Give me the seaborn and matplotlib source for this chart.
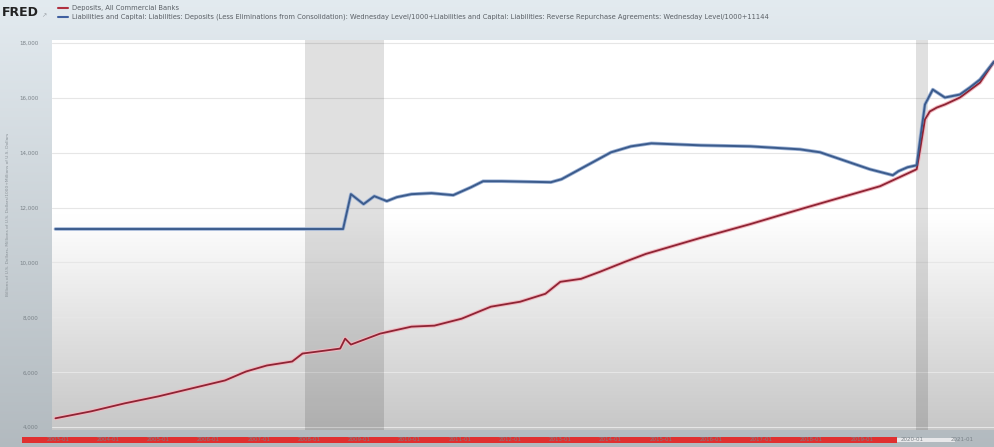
import numpy as np
import pandas as pd
import seaborn as sns
import matplotlib.pyplot as plt
import matplotlib.dates as mdates
from matplotlib.patches import Rectangle

# ----------------------------------------
# DATA (billions of dollars)
# ----------------------------------------
red_dates = ["2002-12-15", "2003-09-01", "2004-05-01", "2005-01-01", "2005-09-01",
             "2006-05-01", "2006-10-01", "2007-03-01", "2007-09-01", "2007-11-15",
             "2008-05-01", "2008-08-15", "2008-09-20", "2008-11-01", "2009-06-01",
             "2010-01-15", "2010-07-01", "2011-01-15", "2011-08-15", "2012-03-15",
             "2012-09-15", "2013-01-01", "2013-06-01", "2013-10-15", "2014-04-15",
             "2014-09-15", "2015-10-15", "2016-10-15", "2017-10-15", "2018-10-01",
             "2019-05-15", "2020-02-05", "2020-03-01", "2020-04-05", "2020-05-10",
             "2020-07-01", "2020-08-28", "2020-12-15", "2021-05-10", "2021-08-20"]
red_values = [4326, 4580, 4870, 5124, 5415, 5705, 6031, 6249, 6394, 6684,
              6793, 6865, 7228, 7010, 7409, 7663, 7700, 7953, 8389, 8570,
              8860, 9295, 9404, 9658, 10021, 10311, 10891, 11399, 11943, 12451,
              12777, 13394, 14119, 15207, 15497, 15642, 15751, 16005, 16549, 17311]

blue_dates = ["2002-12-15", "2008-09-05", "2008-11-01", "2009-02-01", "2009-04-20",
              "2009-07-20", "2009-10-01", "2010-01-15", "2010-06-10", "2010-11-15",
              "2011-03-25", "2011-06-20", "2011-11-01", "2012-10-25", "2013-01-10",
              "2014-01-05", "2014-05-30", "2014-10-25", "2015-10-20", "2016-10-15",
              "2017-10-10", "2018-03-05", "2019-03-01", "2019-08-15", "2019-09-25",
              "2019-12-01", "2020-02-05", "2020-03-01", "2020-04-05", "2020-06-01",
              "2020-08-28", "2020-12-15", "2021-02-25", "2021-05-10", "2021-08-20"]
blue_values = [11218, 11218, 12487, 12124, 12414, 12233, 12378, 12487, 12523, 12451,
               12741, 12958, 12958, 12922, 13031, 14011, 14228, 14337, 14265, 14228,
               14119, 14011, 13394, 13177, 13322, 13467, 13539, 14482, 15751, 16295,
               16005, 16114, 16368, 16658, 17311]

recessions = [("2007-12-01", "2009-06-30"), ("2020-02-01", "2020-04-30")]
y_ticks = [4000, 6000, 8000, 10000, 12000, 14000, 16000, 18000]
x_tick_years = list(range(2003, 2022))

red_label = "Deposits, All Commercial Banks"
blue_label = ("Liabilities and Capital: Liabilities: Deposits (Less Eliminations from Consolidation): "
              "Wednesday Level/1000+Liabilities and Capital: Liabilities: Reverse Repurchase Agreements: "
              "Wednesday Level/1000+11144")

red_df = pd.DataFrame({"date": pd.to_datetime(red_dates), "value": red_values})
blue_df = pd.DataFrame({"date": pd.to_datetime(blue_dates), "value": blue_values})

# ----------------------------------------
# FIGURE
# ----------------------------------------
sns.set_style("white")
plt.rcParams["font.family"] = ["DejaVu Sans"]

fig = plt.figure(figsize=(9.94, 4.47), dpi=100)

# background gradient behind everything (screenshot look)
bg = fig.add_axes([0, 0, 1, 1], zorder=-10)
grad = np.linspace(0, 1, 256).reshape(-1, 1)
top_c = np.array([0.89, 0.92, 0.94])
bot_c = np.array([0.70, 0.73, 0.75])
bg.imshow(top_c + (bot_c - top_c) * grad[:, :, None], aspect="auto", extent=[0, 1, 0, 1])
bg.set_axis_off()

# video progress bar along the bottom (under the tick labels)
fig.add_artist(Rectangle((22 / 994, 5 / 447), (955 - 22) / 994, 4 / 447,
                         transform=fig.transFigure, color="#e8e8ea", lw=0, zorder=-5))
fig.add_artist(Rectangle((22 / 994, 4 / 447), (897 - 22) / 994, 6 / 447,
                         transform=fig.transFigure, color="#e03030", lw=0, zorder=-5))

ax = fig.add_axes([52 / 994, 17 / 447, 1 - 52 / 994, 390 / 447])
ax.set_facecolor("white")

# white-to-grey fade inside the plot
fade = np.clip((np.linspace(0, 1, 256) - 0.45) / 0.55, 0, 1).reshape(-1, 1)
shade = 1.0 - 0.22 * fade
ax.imshow(np.dstack([shade, shade, shade]), aspect="auto", extent=[0, 1, 0, 1],
          transform=ax.transAxes, zorder=0)

for y in y_ticks:
    ax.axhline(y, color="#e6e6e6", lw=0.8, zorder=1)

for start, end in recessions:
    ax.axvspan(pd.Timestamp(start), pd.Timestamp(end), color="black", alpha=0.12, lw=0, zorder=1)

sns.lineplot(data=red_df, x="date", y="value", ax=ax, color="#f2b8c0", lw=2.8, zorder=2)
sns.lineplot(data=red_df, x="date", y="value", ax=ax, color="#8e2434", lw=1.3, zorder=3)
sns.lineplot(data=blue_df, x="date", y="value", ax=ax, color="#9fb4d6", lw=2.6, zorder=2)
sns.lineplot(data=blue_df, x="date", y="value", ax=ax, color="#3b5b8c", lw=1.4, zorder=3)

ax.set_xlim(pd.Timestamp("2002-11-20"), pd.Timestamp("2021-08-20"))
ax.set_ylim(3900, 18100)
ax.set_yticks(y_ticks)
ax.set_yticklabels([f"{v:,}" for v in y_ticks], fontsize=4, color="#7a8288")
ax.set_xticks([pd.Timestamp(f"{y}-01-01") for y in x_tick_years])
ax.xaxis.set_major_formatter(mdates.DateFormatter("%Y-%m"))
ax.tick_params(axis="x", labelsize=4, colors="#7a8288", length=0, pad=5)
ax.tick_params(axis="y", length=0, pad=10)
ax.set_xlabel("")
ax.set_ylabel("")
for s in ax.spines.values():
    s.set_visible(False)

# y-axis units label
fig.text(0.008, 0.52, "Billions of U.S. Dollars, Millions of U.S. Dollars/1000+Millions of U.S. Dollars",
         rotation=90, fontsize=3.2, color="#8a9298", ha="center", va="center")

# header: FRED logo and legend
fig.text(0.002, 0.972, "FRED", fontsize=9, fontweight="bold", color="#222222", va="center")
fig.text(0.041, 0.966, "\u2197", fontsize=4.5, color="#9aa0a6", va="center")
fig.add_artist(plt.Line2D([0.058, 0.068], [0.983, 0.983], color="#b03040", lw=1.5))
fig.add_artist(plt.Line2D([0.058, 0.068], [0.963, 0.963], color="#4060a0", lw=1.5))
fig.text(0.072, 0.983, red_label, fontsize=4.9, color="#5a6066", va="center")
fig.text(0.072, 0.963, blue_label, fontsize=4.9, color="#5a6066", va="center")

fig.savefig("out.png", dpi=100)
